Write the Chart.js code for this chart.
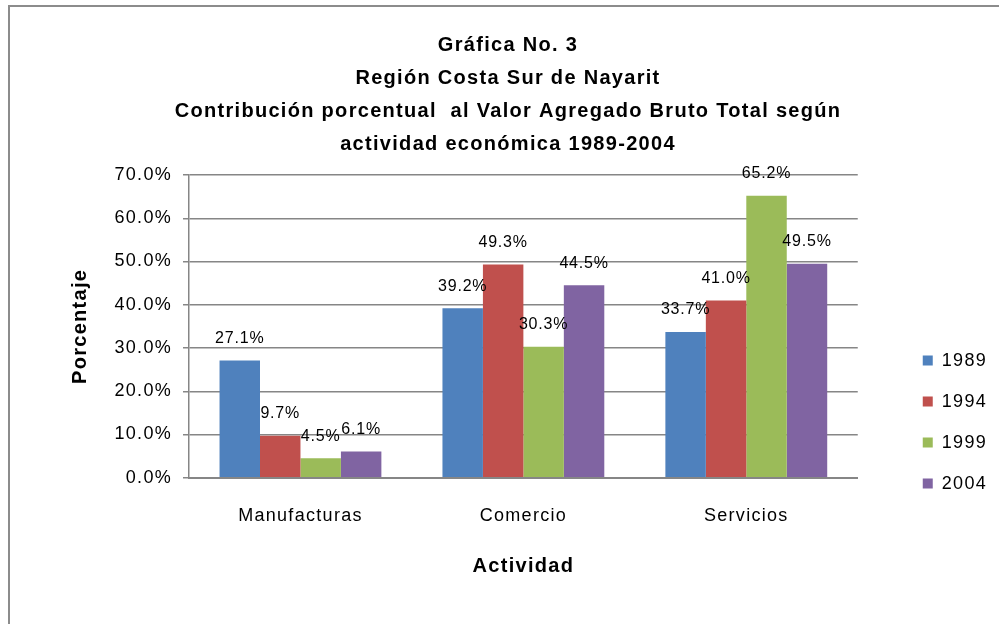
<!DOCTYPE html>
<html>
<head>
<meta charset="utf-8">
<script src="https://cdn.jsdelivr.net/npm/chart.js@4.4.0/dist/chart.umd.min.js"></script>
<style>
  body { margin: 0; background: #fff; overflow: hidden; }
  #marco { position: absolute; left: 8px; top: 5px; width: 1100px; height: 800px; border: 2px solid #8c8c8c; }
  #grafica { position: absolute; left: 0; top: 0; }
</style>
</head>
<body>
<div id="marco"></div>
<canvas id="grafica" width="997" height="624"></canvas>
<script>
// datos
const actividades = ['Manufacturas', 'Comercio', 'Servicios'];
const anios = ['1989', '1994', '1999', '2004'];
const valores1989 = [27.1, 39.2, 33.7];
const valores1994 = [9.7, 49.3, 41.0];
const valores1999 = [4.5, 30.3, 65.2];
const valores2004 = [6.1, 44.5, 49.5];
const marcasY = [0, 10, 20, 30, 40, 50, 60, 70];
const colores = ['#4F81BD', '#C0504D', '#9BBB59', '#8064A2'];
const titulo = [
  'Gráfica No. 3',
  'Región Costa Sur de Nayarit',
  'Contribución porcentual  al Valor Agregado Bruto Total según',
  'actividad económica 1989-2004'
];

const fuente = '"Liberation Sans", Arial, sans-serif';
const gris = '#868686';

// el texto del original sale mas espaciado
const espaciado = {
  id: 'espaciado',
  beforeUpdate(chart) { chart.ctx.letterSpacing = '1.3px'; },
  beforeDraw(chart) { chart.ctx.letterSpacing = '1.3px'; }
};

// etiquetas encima de cada barra
const etiquetasBarras = {
  id: 'etiquetasBarras',
  afterDatasetsDraw(chart) {
    const ctx = chart.ctx;
    ctx.save();
    ctx.letterSpacing = '0.8px';
    ctx.font = '16px ' + fuente;
    ctx.fillStyle = '#000';
    ctx.textAlign = 'center';
    ctx.textBaseline = 'middle';
    chart.data.datasets.forEach((ds, i) => {
      chart.getDatasetMeta(i).data.forEach((barra, j) => {
        ctx.fillText(ds.data[j].toFixed(1) + '%', barra.x, barra.y - 22);
      });
    });
    ctx.restore();
  }
};

const series = [valores1989, valores1994, valores1999, valores2004];

new Chart(document.getElementById('grafica'), {
  type: 'bar',
  data: {
    labels: actividades,
    datasets: series.map((vals, i) => ({
      label: anios[i],
      data: vals,
      backgroundColor: colores[i],
      borderWidth: 0,
      barPercentage: 1.0,
      categoryPercentage: 0.726
    }))
  },
  options: {
    responsive: false,
    animation: false,
    layout: { padding: { left: 19, right: 0, top: 0, bottom: 0 } },
    plugins: {
      title: {
        display: true,
        text: titulo,
        color: '#000',
        font: { family: fuente, size: 20, weight: 'bold', lineHeight: 1.65 },
        padding: { top: 29, bottom: 14 }
      },
      legend: {
        position: 'right',
        title: { display: true, text: '', font: { size: 1 }, padding: { top: 0, bottom: 219 } },
        labels: {
          color: '#000',
          boxWidth: 10,
          boxHeight: 10,
          padding: 23,
          font: { family: fuente, size: 18 }
        }
      },
      tooltip: { enabled: false }
    },
    scales: {
      x: {
        grid: { display: false, drawTicks: false },
        border: { color: gris, width: 2 },
        ticks: { color: '#000', padding: 32, font: { family: fuente, size: 18, lineHeight: 0.68 } },
        title: {
          display: true,
          text: 'Actividad',
          color: '#000',
          font: { family: fuente, size: 20, weight: 'bold' },
          padding: { top: 0, bottom: 46 }
        }
      },
      y: {
        min: 0,
        max: 70,
        afterBuildTicks: s => { s.ticks = marcasY.map(v => ({ value: v })); },
        afterFit: s => { s.width = 170; },
        grid: { color: gris, lineWidth: 1.5, tickLength: 6 },
        border: { color: gris, width: 1.5 },
        ticks: {
          color: '#000',
          padding: 11,
          font: { family: fuente, size: 18 },
          callback: v => v.toFixed(1) + '%'
        },
        title: {
          display: true,
          text: 'Porcentaje',
          color: '#000',
          font: { family: fuente, size: 20, weight: 'bold' },
          padding: { top: 49, bottom: 19 }
        }
      },
      hueco: {
        type: 'linear',
        axis: 'y',
        position: 'right',
        grid: { display: false, drawTicks: false },
        border: { display: false },
        ticks: { display: false },
        afterFit: s => { s.width = 42; }
      }
    }
  },
  plugins: [espaciado, etiquetasBarras]
});
</script>
</body>
</html>
